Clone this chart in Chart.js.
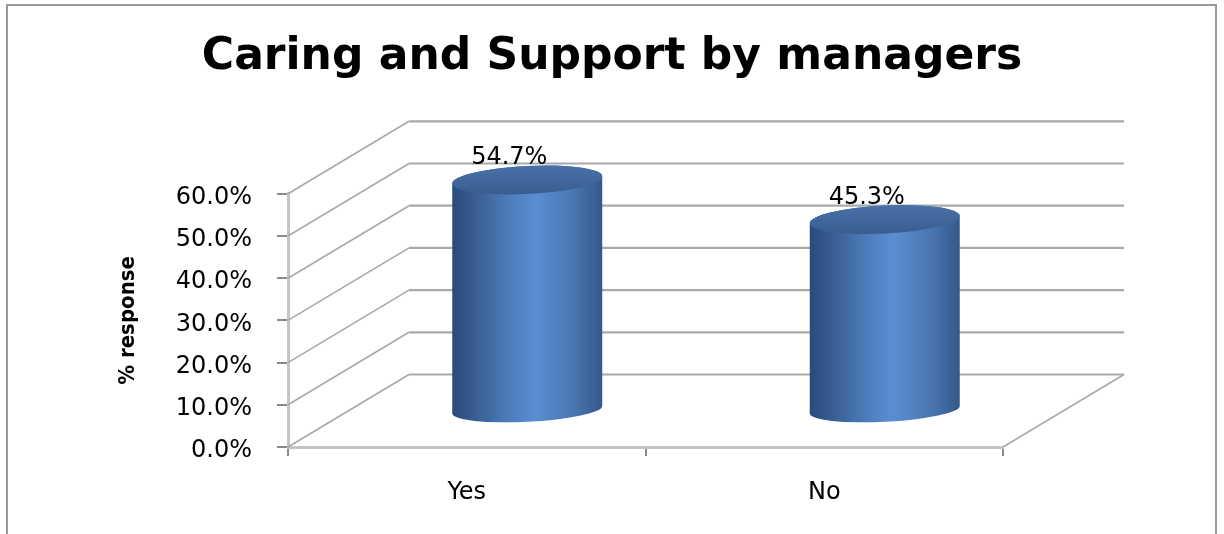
<!DOCTYPE html>
<html>
<head>
<meta charset="utf-8">
<title>Caring and Support by managers</title>
<script src="https://cdn.jsdelivr.net/npm/chart.js@4"></script>
<style>
  html, body { margin: 0; padding: 0; background: #fff; }
  canvas { display: block; }
</style>
</head>
<body>
<canvas id="caringChart" width="1224" height="534"></canvas>
<script>
var answers = ["Yes", "No"];
var responsePct = [54.7, 45.3];
var yTicks = [0, 10, 20, 30, 40, 50, 60];

// depth of the 3d box (back wall offset from the front plane)
var DEPTH_X = 121;
var DEPTH_Y = -72.5;

Chart.defaults.font.family = "'DejaVu Sans', Verdana, sans-serif";
Chart.defaults.color = "#000";

var frame3d = {
    id: 'frame3d',
    beforeDraw: function (chart) {
        var ctx = chart.ctx;
        ctx.save();
        ctx.fillStyle = "#fff";
        ctx.fillRect(0, 0, chart.width, chart.height);
        ctx.strokeStyle = "#9a9a9a";
        ctx.lineWidth = 2;
        ctx.strokeRect(7, 5, chart.width - 15, chart.height + 20);
        ctx.restore();
    },
    beforeDatasetsDraw: function (chart) {
        var ctx = chart.ctx, y = chart.scales.y, a = chart.chartArea;
        ctx.save();
        ctx.strokeStyle = "#a9a9a9";
        ctx.lineWidth = 1.6;
        yTicks.forEach(function (v) {
            var py = y.getPixelForValue(v);
            ctx.beginPath();
            ctx.moveTo(a.left, py);
            ctx.lineTo(a.left + DEPTH_X, py + DEPTH_Y);
            ctx.stroke();
        });
        ctx.lineWidth = 2.2;
        yTicks.forEach(function (v) {
            var py = y.getPixelForValue(v) + DEPTH_Y;
            ctx.beginPath();
            ctx.moveTo(a.left + DEPTH_X, py);
            ctx.lineTo(a.right + DEPTH_X, py);
            ctx.stroke();
        });
        // right edge of the floor
        ctx.lineWidth = 1.6;
        ctx.beginPath();
        ctx.moveTo(a.right, a.bottom);
        ctx.lineTo(a.right + DEPTH_X, a.bottom + DEPTH_Y);
        ctx.stroke();
        ctx.restore();
    },
    afterDatasetsDraw: function (chart) {
        var ctx = chart.ctx;
        var meta = chart.getDatasetMeta(0);
        meta.data.forEach(function (bar, i) {
            var cx = bar.x + DEPTH_X / 2;
            var topY = bar.y + DEPTH_Y / 2;
            var baseY = bar.base + DEPTH_Y / 2;
            drawCylinder(ctx, cx, topY, baseY, bar.width / 2);
        });
        ctx.save();
        ctx.font = "24px 'DejaVu Sans'";
        ctx.fillStyle = "#000";
        ctx.textAlign = "center";
        ctx.textBaseline = "middle";
        meta.data.forEach(function (bar, i) {
            var cx = bar.x + DEPTH_X / 2;
            var topY = bar.y + DEPTH_Y / 2;
            ctx.fillText(responsePct[i].toFixed(1) + "%", cx - 18, topY - 22);
        });
        ctx.restore();
    }
};

function drawCylinder(ctx, cx, topY, baseY, rx) {
    var tilt = -0.05;
    var rTop = 14, rBase = 12;
    var c = Math.cos(tilt), s = Math.sin(tilt);
    ctx.save();
    var side = ctx.createLinearGradient(cx - rx, 0, cx + rx, 0);
    side.addColorStop(0, "#2a4a7a");
    side.addColorStop(0.12, "#36598c");
    side.addColorStop(0.35, "#4a78b5");
    side.addColorStop(0.55, "#5a8ed3");
    side.addColorStop(0.8, "#4a77b2");
    side.addColorStop(1, "#34588a");
    ctx.fillStyle = side;
    ctx.beginPath();
    ctx.moveTo(cx - rx * c, topY - rx * s);
    ctx.lineTo(cx - rx * c, baseY - rx * s);
    ctx.ellipse(cx, baseY, rx, rBase, tilt, Math.PI, 0, true);
    ctx.lineTo(cx + rx * c, topY + rx * s);
    ctx.ellipse(cx, topY, rx, rTop, tilt, 0, Math.PI, true);
    ctx.closePath();
    ctx.fill();

    var top = ctx.createLinearGradient(0, topY - rTop, 0, topY + rTop);
    top.addColorStop(0, "#4871a8");
    top.addColorStop(1, "#395d91");
    ctx.fillStyle = top;
    ctx.beginPath();
    ctx.ellipse(cx, topY, rx, rTop, tilt, 0, Math.PI * 2);
    ctx.fill();
    ctx.restore();
}

var ctx = document.getElementById("caringChart").getContext('2d');
var caringChart = new Chart(ctx, {
    type: 'bar',
    data: {
        labels: answers,
        datasets: [{
            data: responsePct,
            backgroundColor: "rgba(0,0,0,0)",
            borderWidth: 0,
            barPercentage: 0.42,
            categoryPercentage: 1.0
        }]
    },
    plugins: [frame3d],
    options: {
        responsive: false,
        animation: false,
        events: [],
        layout: { padding: 0 },
        plugins: {
            legend: { display: false },
            tooltip: { enabled: false },
            title: {
                display: true,
                text: "Caring and Support by managers",
                color: "#000",
                font: { size: 44, weight: 'bold', family: "'DejaVu Sans'" },
                padding: { top: 31, bottom: 110 }
            }
        },
        scales: {
            x: {
                grid: { drawOnChartArea: false, tickLength: 9, color: "#8a8a8a", lineWidth: 2 },
                border: { color: "#c4c4c4", width: 3 },
                ticks: { font: { size: 24 }, padding: 22, color: "#000" },
                afterFit: function (s) { s.height = 87; }
            },
            y: {
                min: 0,
                max: 60,
                ticks: {
                    stepSize: 10,
                    font: { size: 24 },
                    padding: 25,
                    labelOffset: 4,
                    color: "#000",
                    callback: function (v) { return v.toFixed(1) + "%"; }
                },
                grid: { drawOnChartArea: false, tickLength: 11, color: "#8a8a8a", lineWidth: 2 },
                border: { color: "#c4c4c4", width: 3 },
                title: {
                    display: true,
                    text: "% response",
                    color: "#000",
                    font: { size: 22, weight: 'bold', family: "'DejaVu Sans Condensed', sans-serif" },
                    padding: { top: 115, bottom: 0 }
                },
                afterFit: function (s) { s.width = 288; }
            },
            yRight: {
                type: 'linear',
                position: 'right',
                display: true,
                grid: { display: false },
                border: { display: false },
                ticks: { display: false },
                afterFit: function (s) { s.width = 221; }
            }
        }
    }
});
</script>
</body>
</html>
